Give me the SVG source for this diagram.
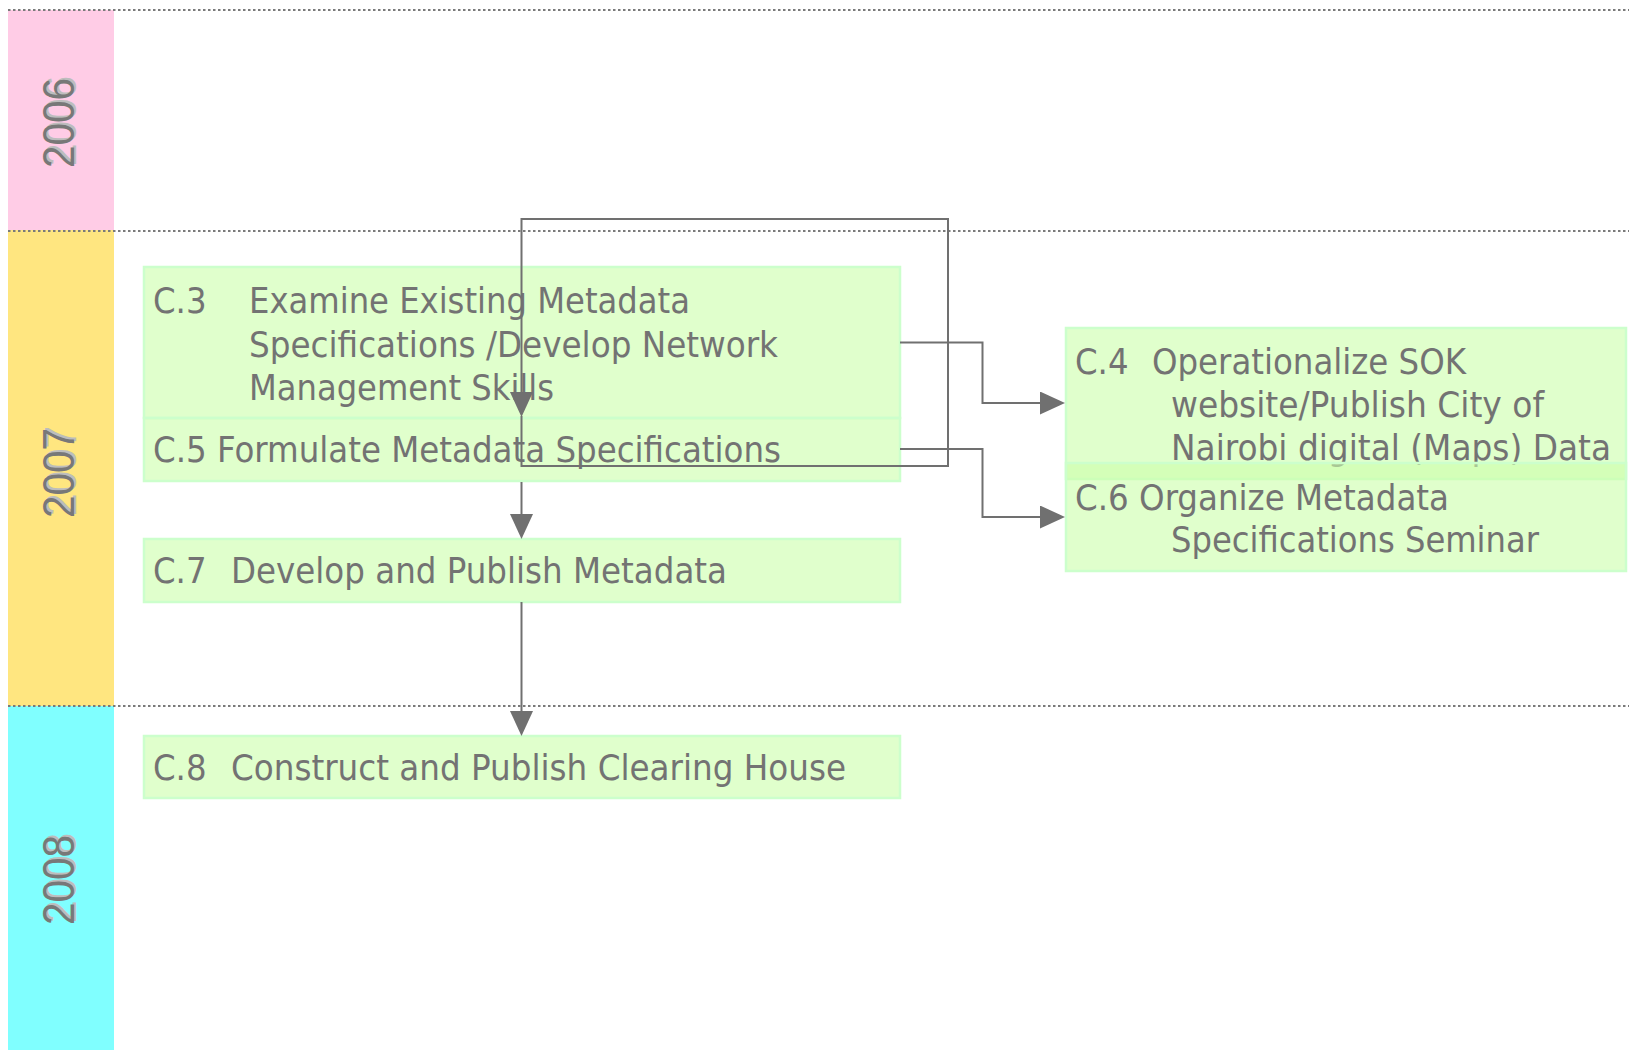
<svg xmlns="http://www.w3.org/2000/svg" width="1629" height="1050" viewBox="0 0 1629 1050">
<style>
.band-pink{fill:#FFCCE6}
.band-yellow{fill:#FFE680}
.band-cyan{fill:#80FFFF}
.divider{stroke:#7A7A7A;stroke-width:2;stroke-dasharray:2.5 2.5;fill:none}
.year{font-family:"Liberation Sans",Arial,sans-serif;font-size:44px;text-anchor:middle}
.year-shadow{fill:#BDBDBD}
.year-main{fill:#787878}
.box{fill:#CCFFAA;fill-opacity:0.6;stroke:#CCFFCC;stroke-width:2.5}
.lbl{font-family:"DejaVu Sans Condensed","DejaVu Sans",sans-serif;font-stretch:condensed;font-size:36px;fill:#737373}
.conn{fill:none;stroke:#707070;stroke-width:2}
</style>
<defs>
<marker id="arrow" markerUnits="userSpaceOnUse" markerWidth="26" markerHeight="24" refX="0" refY="11.5" orient="auto">
<path d="M0,0 L25,11.5 L0,23 Z" fill="#707070"/>
</marker>
</defs>
<rect width="1629" height="1050" fill="#FFFFFF"/>
<g id="bands">
<rect class="band-pink" x="8" y="10" width="106" height="220"/>
<rect class="band-yellow" x="8" y="230" width="106" height="476"/>
<rect class="band-cyan" x="8" y="706" width="106" height="344"/>
<g transform="translate(74,123) rotate(-90)">
<text class="year year-shadow" x="2" y="2" textLength="90" lengthAdjust="spacingAndGlyphs">2006</text>
<text class="year year-main" x="0" y="0" textLength="90" lengthAdjust="spacingAndGlyphs">2006</text>
</g>
<g transform="translate(74,473) rotate(-90)">
<text class="year year-shadow" x="2" y="2" textLength="90" lengthAdjust="spacingAndGlyphs">2007</text>
<text class="year year-main" x="0" y="0" textLength="90" lengthAdjust="spacingAndGlyphs">2007</text>
</g>
<g transform="translate(74,880) rotate(-90)">
<text class="year year-shadow" x="2" y="2" textLength="90" lengthAdjust="spacingAndGlyphs">2008</text>
<text class="year year-main" x="0" y="0" textLength="90" lengthAdjust="spacingAndGlyphs">2008</text>
</g>
</g>
<g id="dividers">
<line class="divider" x1="8" y1="10" x2="1629" y2="10"/>
<line class="divider" x1="8" y1="231" x2="1629" y2="231"/>
<line class="divider" x1="8" y1="706" x2="1629" y2="706"/>
</g>
<g id="node-c3">
<rect class="box" x="144" y="267" width="756" height="151"/>
<text class="lbl" x="153" y="313">C.3</text>
<text class="lbl" x="249" y="313" textLength="441" lengthAdjust="spacingAndGlyphs">Examine Existing Metadata</text>
<text class="lbl" x="249" y="357" textLength="529" lengthAdjust="spacingAndGlyphs">Specifications /Develop Network</text>
<text class="lbl" x="249" y="400" textLength="305" lengthAdjust="spacingAndGlyphs">Management Skills</text>
</g>
<g id="node-c5">
<rect class="box" x="144" y="418" width="756" height="63"/>
<text class="lbl" x="153" y="462" textLength="628" lengthAdjust="spacingAndGlyphs">C.5 Formulate Metadata Specifications</text>
</g>
<g id="node-c7">
<rect class="box" x="144" y="539" width="756" height="63"/>
<text class="lbl" x="153" y="583">C.7</text>
<text class="lbl" x="231" y="583" textLength="496" lengthAdjust="spacingAndGlyphs">Develop and Publish Metadata</text>
</g>
<g id="node-c8">
<rect class="box" x="144" y="736" width="756" height="62"/>
<text class="lbl" x="153" y="780">C.8</text>
<text class="lbl" x="231" y="780" textLength="615" lengthAdjust="spacingAndGlyphs">Construct and Publish Clearing House</text>
</g>
<g id="node-c4">
<rect class="box" x="1066" y="328" width="560" height="151"/>
<text class="lbl" x="1075" y="374">C.4</text>
<text class="lbl" x="1152" y="374" textLength="314" lengthAdjust="spacingAndGlyphs">Operationalize SOK</text>
<text class="lbl" x="1171" y="417" textLength="373" lengthAdjust="spacingAndGlyphs">website/Publish City of</text>
<text class="lbl" x="1171" y="460" textLength="440" lengthAdjust="spacingAndGlyphs">Nairobi digital (Maps) Data</text>
</g>
<g id="node-c6">
<rect class="box" x="1066" y="463" width="560" height="108"/>
<text class="lbl" x="1075" y="510" textLength="374" lengthAdjust="spacingAndGlyphs">C.6 Organize Metadata</text>
<text class="lbl" x="1171" y="552" textLength="368" lengthAdjust="spacingAndGlyphs">Specifications Seminar</text>
</g>
<g id="connectors">
<path class="conn" d="M521.5,416 V466 H948 V219 H521.5 V392" marker-end="url(#arrow)"/>
<path class="conn" d="M521.5,482 V514" marker-end="url(#arrow)"/>
<path class="conn" d="M521.5,602 V711" marker-end="url(#arrow)"/>
<path class="conn" d="M900,342.5 H982.5 V403 H1040" marker-end="url(#arrow)"/>
<path class="conn" d="M900,449 H982.5 V517 H1040" marker-end="url(#arrow)"/>
</g>
</svg>
